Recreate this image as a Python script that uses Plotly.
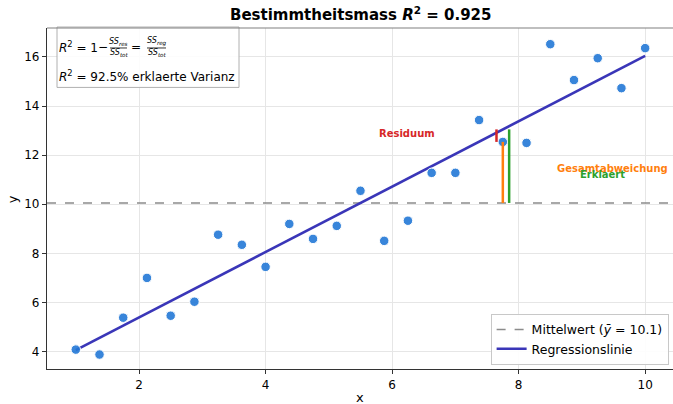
import numpy as np
import plotly.graph_objects as go

# ---- data ----
x_vals = [1.0, 1.375, 1.75, 2.125, 2.5, 2.875, 3.25, 3.625, 4.0, 4.375, 4.75, 5.125,
          5.5, 5.875, 6.25, 6.625, 7.0, 7.375, 7.75, 8.125, 8.5, 8.875, 9.25, 9.625, 10.0]
y_vals = [4.08, 3.88, 5.38, 7.0, 5.46, 6.03, 8.76, 8.35, 7.45, 9.2, 8.59, 9.12,
          10.55, 8.51, 9.33, 11.28, 11.28, 13.43, 12.54, 12.5, 16.52, 15.06, 15.95, 14.73, 16.36]
highlight_index = 18
x_ticks = [2, 4, 6, 8, 10]
y_ticks = [4, 6, 8, 10, 12, 14, 16]

x = np.array(x_vals)
y = np.array(y_vals)
slope, intercept = np.polyfit(x, y, 1)
y_mean = y.mean()
y_fit = slope * x + intercept

FONT = "DejaVu Sans"
W, H = 673, 404
L, R, T, B = 47, 0, 27.5, 35
PW, PH = W - L - R, H - T - B

def px(xp):
    return (xp - L) / PW

def py(yp):
    return 1 - (yp - T) / PH

fig = go.Figure()

# mean line
fig.add_trace(go.Scatter(
    x=[0.545, 10.44], y=[y_mean, y_mean], mode="lines",
    line=dict(color="#8c8c8c", width=1.6, dash="dash"),
    name="Mittelwert (<i>ȳ</i> = 10.1)"))

# regression line
fig.add_trace(go.Scatter(
    x=[x.min(), x.max()], y=[slope * x.min() + intercept, slope * x.max() + intercept],
    mode="lines", line=dict(color="#3a36b8", width=2.6), name="Regressionslinie"))

# points
fig.add_trace(go.Scatter(
    x=x, y=y, mode="markers", showlegend=False,
    marker=dict(size=9.5, color="rgba(34,120,214,0.9)", line=dict(color="white", width=1))))

# deviation segments for highlighted point
xi = x[highlight_index]
yi = y[highlight_index]
yfi = y_fit[highlight_index]
fig.add_trace(go.Scatter(x=[xi - 0.1, xi - 0.1], y=[yi, yfi], mode="lines",
                         line=dict(color="#d62728", width=2.5), showlegend=False))
fig.add_trace(go.Scatter(x=[xi, xi], y=[y_mean, yi], mode="lines",
                         line=dict(color="#ff7f0e", width=2.5), showlegend=False))
fig.add_trace(go.Scatter(x=[xi + 0.1, xi + 0.1], y=[y_mean, yfi], mode="lines",
                         line=dict(color="#2ca02c", width=2.5), showlegend=False))

annotations = [
    dict(x=6.23, y=12.9, xref="x", yref="y", text="<b>Residuum</b>", showarrow=False,
         font=dict(family=FONT, size=10, color="#d62728")),
    dict(x=9.49, y=11.44, xref="x", yref="y", text="<b>Gesamtabweichung</b>", showarrow=False,
         font=dict(family=FONT, size=10, color="#ff7f0e")),
    dict(x=9.33, y=11.2, xref="x", yref="y", text="<b>Erklaert</b>", showarrow=False,
         font=dict(family=FONT, size=10, color="#2ca02c")),
    # formula box
    dict(x=px(57), y=py(47), xref="paper", yref="paper", xanchor="left", yanchor="middle",
         text="<i>R</i><sup>2</sup> = 1", showarrow=False, font=dict(family=FONT, size=12, color="black")),
    dict(x=px(103), y=py(47), xref="paper", yref="paper", xanchor="center", yanchor="middle",
         text="−", showarrow=False, font=dict(family=FONT, size=12, color="black")),
    dict(x=px(118.5), y=py(41.5), xref="paper", yref="paper", xanchor="center", yanchor="middle",
         text="<i>SS<sub>res</sub></i>", showarrow=False, font=dict(family=FONT, size=8, color="black")),
    dict(x=px(118.5), y=py(53), xref="paper", yref="paper", xanchor="center", yanchor="middle",
         text="<i>SS<sub>tot</sub></i>", showarrow=False, font=dict(family=FONT, size=8, color="black")),
    dict(x=px(136), y=py(47), xref="paper", yref="paper", xanchor="center", yanchor="middle",
         text="=", showarrow=False, font=dict(family=FONT, size=12, color="black")),
    dict(x=px(156.5), y=py(41.5), xref="paper", yref="paper", xanchor="center", yanchor="middle",
         text="<i>SS<sub>reg</sub></i>", showarrow=False, font=dict(family=FONT, size=8, color="black")),
    dict(x=px(156.5), y=py(53), xref="paper", yref="paper", xanchor="center", yanchor="middle",
         text="<i>SS<sub>tot</sub></i>", showarrow=False, font=dict(family=FONT, size=8, color="black")),
    dict(x=px(57), y=py(76), xref="paper", yref="paper", xanchor="left", yanchor="middle",
         text="<i>R</i><sup>2</sup> = 92.5% erklaerte Varianz", showarrow=False,
         font=dict(family=FONT, size=12, color="black")),
    # axis titles
    dict(x=px(360), y=py(398), xref="paper", yref="paper", xanchor="center", yanchor="middle",
         text="x", showarrow=False, font=dict(family=FONT, size=13, color="black")),
    dict(x=px(12), y=py(199), xref="paper", yref="paper", xanchor="center", yanchor="middle",
         text="y", textangle=-90, showarrow=False, font=dict(family=FONT, size=13, color="black")),
]

shapes = [
    dict(type="rect", xref="paper", yref="paper", x0=px(57), x1=px(239), y0=py(87), y1=py(26.5),
         line=dict(color="#b0b0b0", width=1), fillcolor="rgba(255,255,255,0.85)", layer="above"),
    dict(type="line", xref="paper", yref="paper", x0=px(110), x1=px(127), y0=py(47.5), y1=py(47.5),
         line=dict(color="black", width=0.8), layer="above"),
    dict(type="line", xref="paper", yref="paper", x0=px(147), x1=px(166), y0=py(47.5), y1=py(47.5),
         line=dict(color="black", width=0.8), layer="above"),
    # top spine
    dict(type="line", xref="paper", yref="paper", x0=0, x1=1, y0=1, y1=1,
         line=dict(color="#808080", width=1.2)),
]

fig.update_layout(
    width=W, height=H,
    margin=dict(l=L, r=R, t=T, b=B, autoexpand=False),
    plot_bgcolor="white", paper_bgcolor="white",
    font=dict(family=FONT, size=12, color="black"),
    title=dict(text="<b>Bestimmtheitsmass <i>R</i><sup>2</sup> = 0.925</b>",
               x=0.536, xanchor="center", y=1 - 15 / H, yanchor="middle",
               font=dict(family=FONT, size=15, color="black")),
    xaxis=dict(range=[0.545, 10.44], tickvals=x_ticks, showgrid=True, gridcolor="#e6e6e6",
               gridwidth=1, zeroline=False, showline=True, linecolor="#333333", linewidth=1.3,
               ticks="outside", ticklen=4, tickcolor="#333333", automargin=False,
               tickfont=dict(size=12)),
    yaxis=dict(range=[3.29, 17.18], tickvals=y_ticks, showgrid=True, gridcolor="#e6e6e6",
               gridwidth=1, zeroline=False, showline=True, linecolor="#333333", linewidth=1.3,
               ticks="outside", ticklen=4, tickcolor="#333333", automargin=False,
               tickfont=dict(size=12)),
    legend=dict(x=0.993, y=0.012, xanchor="right", yanchor="bottom",
                bgcolor="rgba(255,255,255,0.9)", bordercolor="#c8c8c8", borderwidth=1,
                font=dict(family=FONT, size=12.5), tracegroupgap=2),
    annotations=annotations,
    shapes=shapes,
    showlegend=True,
)

fig.write_html("out.html", config={"displayModeBar": False},
               post_script="document.body.style.margin='0';document.body.style.overflow='hidden';")
